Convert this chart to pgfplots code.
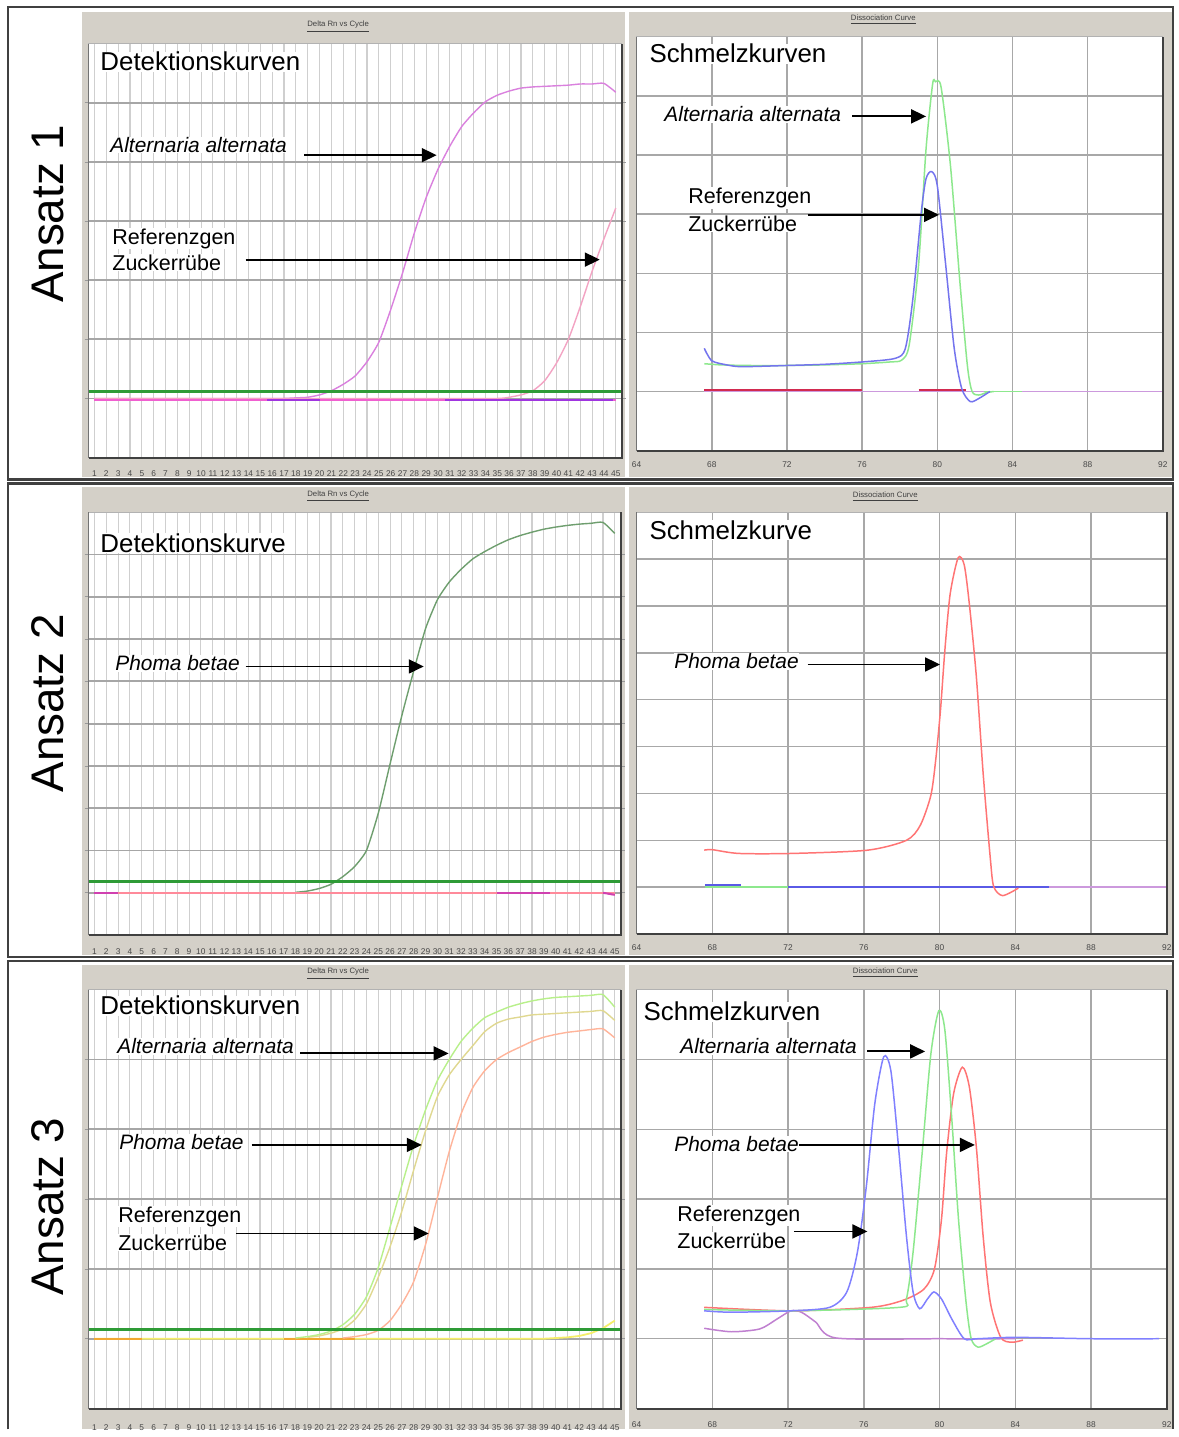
\documentclass[border=0pt]{standalone}
\usepackage{pgfplots}
\pgfplotsset{compat=1.18}
\usepackage{fontspec}
\setmainfont{Liberation Sans}
\usetikzlibrary{arrows.meta}

\definecolor{panel}{HTML}{D4D0C8}
\definecolor{hgrid}{HTML}{A6A6A6}
\definecolor{vgrid}{HTML}{CFCFCF}
\definecolor{mgrid}{HTML}{A8A8A8}
\definecolor{thr}{HTML}{2E9B36}
\definecolor{orchid}{HTML}{DA80DE}
\definecolor{lpink}{HTML}{F3A3C3}
\definecolor{mag}{HTML}{F060D0}
\definecolor{purp}{HTML}{A035E0}
\definecolor{lgreen}{HTML}{8DE88D}
\definecolor{mblue}{HTML}{7474EE}
\definecolor{dred}{HTML}{D22A50}
\definecolor{violet2}{HTML}{CC99DD}
\definecolor{sgreen}{HTML}{6E9E6E}
\definecolor{bpink}{HTML}{FF8A9A}
\definecolor{bmag}{HTML}{D040B0}
\definecolor{lred}{HTML}{FF7474}
\definecolor{bblue}{HTML}{5A5AE6}
\definecolor{yel}{HTML}{F5EE6A}
\definecolor{orng}{HTML}{F0A830}
\definecolor{ygreen}{HTML}{B8F08A}
\definecolor{khaki}{HTML}{E0D890}
\definecolor{salmon}{HTML}{FFB49A}
\definecolor{blue3}{HTML}{8080FF}
\definecolor{purp3}{HTML}{C080D0}

\newcommand\tickf{\fontsize{4.2}{4.6}\selectfont}
\newcommand\ttlf{\fontsize{3.9}{4.5}\selectfont}
\newcommand\ansf{\fontsize{23}{26}\selectfont}
\newcommand\headf{\fontsize{13}{15}\selectfont}
\newcommand\labf{\fontsize{10.8}{12}\selectfont}
\newcommand\spf{\fontsize{10.5}{12}\selectfont\itshape}

\pgfplotsset{
  rnaxis/.style={scale only axis, anchor=south west,
    xmin=0.5, xmax=45.5, xtick={1,...,45},
    axis line style={draw=none}, xmajorgrids, ymajorgrids,
    x grid style={draw=vgrid, line width=0.55pt},
    y grid style={draw=hgrid, line width=0.9pt},
    xticklabel style={font=\tickf, text=black!72, anchor=center},
    yticklabels={}, tick align=outside, major tick length=2pt,
    xtick style={draw=none}, ytick style={draw=black!40, line width=0.4pt},
    /pgf/number format/assume math mode=true},
  mtaxis/.style={scale only axis, anchor=south west,
    xmin=64, xmax=92, xtick={64,68,...,92},
    axis line style={draw=none}, xmajorgrids, ymajorgrids,
    grid style={draw=mgrid, line width=0.75pt},
    xticklabel style={font=\tickf, text=black!72, anchor=center},
    yticklabels={}, xtick style={draw=none}, ytick style={draw=none},
    /pgf/number format/assume math mode=true},
  curve/.style={line width=0.7pt, smooth, tension=0.35},
  mcurve/.style={line width=0.75pt, smooth, tension=0.45}
}

\begin{document}
\begin{tikzpicture}
\begin{scope}[x=0.5pt,y=-0.5pt]
\path[use as bounding box] (0,0) rectangle (1180,1437);
\fill[white] (0,0) rectangle (1180,1437);
% gray panels
\fill[panel] (82,12) rectangle (628,480);
\fill[panel] (632,12) rectangle (1178,480);
\fill[panel] (82,490) rectangle (628,960);
\fill[panel] (632,490) rectangle (1178,960);
\fill[panel] (82,970) rectangle (628,1437);
\fill[panel] (632,970) rectangle (1178,1437);
% plot backgrounds
\fill[white] (89,44) rectangle (625,460);
\fill[white] (640,37) rectangle (1169,453);
\fill[white] (89,515) rectangle (624,940);
\fill[white] (640,515) rectangle (1173,939);
\fill[white] (89,995) rectangle (624,1416);
\fill[white] (640,995) rectangle (1173,1416);
% panel titles
\node[font=\ttlf, text=black!75] at (340,27) {\underline{Delta Rn vs Cycle}};
\node[font=\ttlf, text=black!75] at (888,20) {\underline{Dissociation Curve}};
\node[font=\ttlf, text=black!75] at (340,499) {\underline{Delta Rn vs Cycle}};
\node[font=\ttlf, text=black!75] at (890,499) {\underline{Dissociation Curve}};
\node[font=\ttlf, text=black!75] at (340,979) {\underline{Delta Rn vs Cycle}};
\node[font=\ttlf, text=black!75] at (890,978) {\underline{Dissociation Curve}};
\end{scope}

% ---------------- Row 1 left ----------------
\begin{axis}[rnaxis, at={(44.5pt,-230pt)}, width=268pt, height=208pt,
  ymin=-1, ymax=6, ytick={0,...,5}, xticklabel style={yshift=-6.2pt}]
\addplot[curve, orchid] coordinates {(1,0)(2,0)(3,0)(4,0)(5,0)(6,0)(7,0)(8,0)(9,0)(10,0)(11,0)(12,0)(13,0)(14,0)(15,0)(16,0)(17,0)(18,0.01)(19,0.02)(20,0.06)(21,0.13)(22,0.24)(23,0.38)(24,0.62)(25,0.95)(26,1.5)(27,2.12)(28,2.8)(29,3.4)(30,3.88)(31,4.27)(32,4.6)(33,4.83)(34,5.02)(35,5.13)(36,5.2)(37,5.25)(38,5.27)(39,5.28)(40,5.29)(41,5.3)(42,5.32)(43,5.32)(44,5.33)(45,5.18)};
\addplot[curve, lpink] coordinates {(1,0)(5,0)(10,0)(15,0)(20,0)(25,0)(30,0)(35,0)(36,0.02)(37,0.06)(38,0.13)(39,0.3)(40,0.6)(41,1.0)(42,1.55)(43,2.15)(44,2.7)(45,3.22)};
\addplot[mag, line width=0.9pt] coordinates {(1,-0.02)(45,-0.02)};
\addplot[purp, line width=1pt] coordinates {(15.6,-0.02)(20,-0.02)};
\addplot[purp, line width=1pt] coordinates {(30.6,-0.02)(44.8,-0.02)};
\addplot[thr, line width=1.4pt] coordinates {(0.5,0.12)(45.5,0.12)};
\end{axis}

% ---------------- Row 1 right ----------------
\begin{axis}[mtaxis, at={(320pt,-226.5pt)}, width=264.5pt, height=208pt,
  ymin=-1, ymax=6, ytick={0,...,5}, xticklabel style={yshift=-7pt}]
\addplot[violet2, line width=0.8pt] coordinates {(67.6,0)(92,0)};
\addplot[dred, line width=0.9pt] coordinates {(67.6,0.02)(76,0.02)};
\addplot[dred, line width=0.9pt] coordinates {(79,0.02)(81.5,0.02)};
\addplot[lgreen, line width=0.8pt] coordinates {(82.5,0)(84.5,0)};
\addplot[mcurve, lgreen] coordinates {(67.6,0.47)(68.5,0.45)(70,0.44)(72,0.44)(74,0.45)(76,0.47)(77.5,0.5)(78.1,0.53)(78.5,0.78)(79.0,2.13)(79.4,4.1)(79.75,5.2)(79.9,5.24)(80.2,5.15)(80.7,3.82)(81.2,1.86)(81.6,0.44)(81.85,0)(82.2,-0.06)(82.6,-0.02)(83,0)};
\addplot[mcurve, mblue] coordinates {(67.6,0.73)(68.0,0.52)(68.8,0.45)(69.6,0.42)(72,0.44)(74,0.46)(76,0.5)(77.75,0.56)(78.3,0.73)(78.7,1.57)(79.15,3.04)(79.4,3.6)(79.7,3.72)(80.0,3.48)(80.45,2.13)(80.9,0.73)(81.3,0.05)(81.75,-0.17)(82.2,-0.12)(82.8,0)};
\end{axis}

% ---------------- Row 2 left ----------------
\begin{axis}[rnaxis, at={(44.5pt,-470pt)}, width=267.5pt, height=212.5pt,
  ymin=-1, ymax=9, ytick={0,...,8}, xticklabel style={yshift=-6.5pt}]
\addplot[curve, sgreen] coordinates {(18,0.01)(19,0.04)(20,0.1)(21,0.2)(22,0.38)(23,0.62)(24,1.0)(25,1.88)(26,3.05)(27,4.2)(28,5.25)(29,6.25)(30,6.93)(31,7.35)(32,7.65)(33,7.9)(34,8.07)(35,8.22)(36,8.35)(37,8.45)(38,8.53)(39,8.6)(40,8.65)(41,8.69)(42,8.72)(43,8.74)(44,8.76)(45,8.5)};
\addplot[bpink, line width=0.9pt] coordinates {(1,0)(45,0)};
\addplot[bmag, line width=1pt] coordinates {(1,0)(3,0)};
\addplot[bmag, line width=1pt] coordinates {(35,0)(39.5,0)};
\addplot[bmag, line width=1pt] coordinates {(44,0)(45,-0.05)};
\addplot[thr, line width=1.4pt] coordinates {(0.5,0.26)(45.5,0.26)};
\end{axis}

% ---------------- Row 2 right ----------------
\begin{axis}[mtaxis, at={(320pt,-469.5pt)}, width=266.5pt, height=212pt,
  ymin=-1, ymax=8, ytick={0,...,7}, xticklabel style={yshift=-7pt}]
\addplot[violet2, line width=0.8pt] coordinates {(67.6,0)(92,0)};
\addplot[bblue, line width=0.8pt] coordinates {(67.6,0)(85.8,0)};
\addplot[lgreen, line width=0.8pt] coordinates {(67.6,0)(72,0)};
\addplot[bblue, line width=1pt] coordinates {(67.6,0.05)(69.5,0.05)};
\addplot[mcurve, lred] coordinates {(67.57,0.79)(68.0,0.8)(69.4,0.72)(72.2,0.72)(76.2,0.79)(78.25,1.0)(78.98,1.32)(79.54,1.96)(79.8,2.73)(80.05,3.79)(80.28,5.06)(80.56,6.26)(80.98,7.03)(81.3,6.88)(81.57,6.05)(81.94,4.5)(82.31,2.38)(82.68,0.61)(82.86,0.01)(83.33,-0.18)(84.16,-0.02)};
\end{axis}

% ---------------- Row 3 left ----------------
\begin{axis}[rnaxis, at={(44.5pt,-708pt)}, width=267.5pt, height=210.5pt,
  ymin=-1, ymax=5, ytick={0,...,4}, xticklabel style={yshift=-7.5pt}]
\addplot[yel, line width=0.9pt] coordinates {(1,0)(10,0)(20,0)(30,0)(39,0)(40,0.01)(41,0.02)(42,0.04)(43,0.08)(44,0.15)(45,0.26)};
\addplot[orng, line width=0.9pt] coordinates {(1,0)(5,0)};
\addplot[orng, line width=0.9pt] coordinates {(17,0)(23,0)};
\addplot[curve, salmon] coordinates {(22,0.01)(23,0.03)(24,0.06)(25,0.12)(26,0.26)(27,0.5)(28,0.82)(29,1.35)(30,2.02)(31,2.68)(32,3.22)(33,3.6)(34,3.84)(35,4.0)(36,4.1)(37,4.18)(38,4.26)(39,4.32)(40,4.36)(41,4.39)(42,4.41)(43,4.43)(44,4.44)(45,4.31)};
\addplot[curve, khaki] coordinates {(19,0.02)(20,0.04)(21,0.08)(22,0.14)(23,0.27)(24,0.5)(25,0.88)(26,1.32)(27,1.83)(28,2.42)(29,2.98)(30,3.47)(31,3.78)(32,4.0)(33,4.2)(34,4.4)(35,4.52)(36,4.58)(37,4.61)(38,4.64)(39,4.65)(40,4.66)(41,4.67)(42,4.68)(43,4.69)(44,4.7)(45,4.56)};
\addplot[curve, ygreen] coordinates {(18,0.01)(19,0.03)(20,0.06)(21,0.11)(22,0.2)(23,0.35)(24,0.6)(25,1.02)(26,1.6)(27,2.2)(28,2.78)(29,3.28)(30,3.7)(31,4.0)(32,4.26)(33,4.45)(34,4.6)(35,4.68)(36,4.75)(37,4.8)(38,4.84)(39,4.87)(40,4.89)(41,4.9)(42,4.91)(43,4.92)(44,4.93)(45,4.75)};
\addplot[thr, line width=1.4pt] coordinates {(0.5,0.13)(45.5,0.13)};
\end{axis}

% ---------------- Row 3 right ----------------
\begin{axis}[mtaxis, at={(320pt,-708pt)}, width=266.5pt, height=210.5pt,
  ymin=-1, ymax=5, ytick={0,...,4}, xticklabel style={yshift=-8pt}]
\addplot[mcurve, purp3] coordinates {(67.57,0.15)(69.0,0.1)(70.5,0.14)(71.4,0.28)(72.15,0.40)(72.7,0.38)(73.45,0.24)(74.55,0.01)(80,0)(84,0)};
\addplot[mcurve, lred] coordinates {(67.57,0.45)(72.15,0.40)(76.4,0.45)(78.06,0.55)(79.17,0.71)(79.73,1.0)(80.1,1.71)(80.37,2.66)(80.74,3.51)(81.2,3.89)(81.57,3.61)(81.94,2.75)(82.3,1.47)(82.68,0.52)(83.23,0.02)(83.8,-0.05)(84.4,-0.02)};
\addplot[mcurve, lgreen] coordinates {(67.57,0.42)(72.15,0.40)(77.9,0.45)(78.25,0.57)(78.6,1.24)(79.08,2.66)(79.54,4.08)(79.96,4.7)(80.28,4.42)(80.65,3.13)(81.0,1.71)(81.4,0.52)(81.67,0)(82.03,-0.12)(82.5,-0.07)(82.96,0)};
\addplot[mcurve, blue3] coordinates {(67.57,0.40)(69.0,0.38)(72.15,0.40)(74.2,0.45)(75.1,0.67)(75.66,1.24)(76.13,2.18)(76.58,3.37)(77.05,4.04)(77.42,3.85)(77.78,2.9)(78.25,1.47)(78.6,0.67)(78.95,0.43)(79.36,0.57)(79.7,0.67)(80.1,0.57)(80.65,0.28)(81.3,0.0)(82,0.0)(84,0.02)(88,0.0)(91.6,0.0)};
\end{axis}

\begin{scope}[x=0.5pt,y=-0.5pt,
  lab/.style={anchor=west, inner sep=0.3pt, fill=white},
  arr/.style={-{Triangle[length=7.5pt,width=7pt]}, line width=0.95pt, black}]
% plot frames
\foreach \L/\T/\R/\B in {89/44/625/460, 640/37/1169/453, 89/515/624/940, 640/515/1173/939, 89/995/624/1416, 640/995/1173/1416}{
  \draw[black!30, line width=0.6pt] (\L,\B) -- (\L,\T) -- (\R,\T);
  \draw[black!75, line width=1pt] (\L,\B) -- (\R,\B) -- (\R,\T);
  \draw[black!55, line width=0.6pt] (\L,\B) -- (\L,\T);
}
% row frames
\draw[black!75, line width=1.1pt] (8,7) rectangle (1179,482);
\draw[black!75, line width=1.1pt] (8,486) rectangle (1179,962);
\draw[black!75, line width=1.1pt] (8,1437) -- (8,966) -- (1179,966) -- (1179,1437);
% Ansatz labels
\node[rotate=90, font=\ansf] at (48,215) {Ansatz 1};
\node[rotate=90, font=\ansf] at (48,707) {Ansatz 2};
\node[rotate=90, font=\ansf] at (48,1213) {Ansatz 3};

% Row 1 left
\node[lab, font=\headf] at (100,62) {Detektionskurven};
\node[lab, font=\spf] at (110,146) {Alternaria alternata};
\node[lab, font=\labf] at (112,240) {Referenzgen};
\node[lab, font=\labf] at (112,264) {Zuckerrübe};
\draw[arr] (306,156) -- (439,156);
\draw[arr] (247,261) -- (603,261);
% Row 1 right
\node[lab, font=\headf] at (652,54) {Schmelzkurven};
\node[lab, font=\spf] at (667,115) {Alternaria alternata};
\node[lab, font=\labf] at (691,199) {Referenzgen};
\node[lab, font=\labf] at (691,225) {Zuckerrübe};
\draw[arr] (857,117) -- (931,117);
\draw[arr] (812,216) -- (944,216);
% Row 2 left
\node[lab, font=\headf] at (100,546) {Detektionskurve};
\node[lab, font=\spf] at (115,667) {Phoma betae};
\draw[arr] (247,670) -- (426,670);
% Row 2 right
\node[lab, font=\headf] at (652,533) {Schmelzkurve};
\node[lab, font=\spf] at (677,665) {Phoma betae};
\draw[arr] (812,668) -- (945,668);
% Row 3 left
\node[lab, font=\headf] at (100,1011) {Detektionskurven};
\node[lab, font=\spf] at (117,1052) {Alternaria alternata};
\node[lab, font=\spf] at (119,1148) {Phoma betae};
\node[lab, font=\labf] at (118,1223) {Referenzgen};
\node[lab, font=\labf] at (118,1249) {Zuckerrübe};
\draw[arr] (302,1059) -- (451,1059);
\draw[arr] (253,1151) -- (424,1151);
\draw[arr] (237,1240) -- (431,1240);
% Row 3 right
\node[lab, font=\headf] at (646,1017) {Schmelzkurven};
\node[lab, font=\spf] at (683,1052) {Alternaria alternata};
\node[lab, font=\spf] at (677,1150) {Phoma betae};
\node[lab, font=\labf] at (680,1222) {Referenzgen};
\node[lab, font=\labf] at (680,1247) {Zuckerrübe};
\draw[arr] (872,1057) -- (930,1057);
\draw[arr] (803,1151) -- (980,1151);
\draw[arr] (798,1238) -- (872,1238);
\end{scope}
\end{tikzpicture}
\end{document}
